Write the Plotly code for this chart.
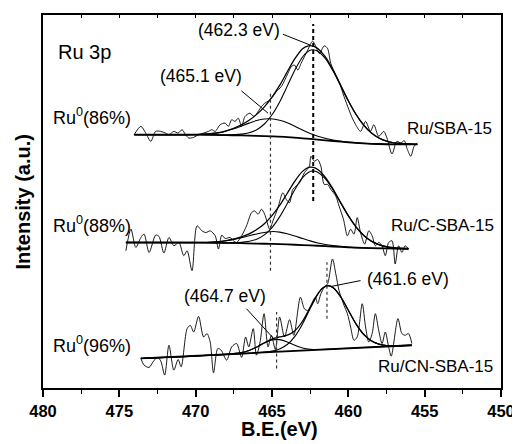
import plotly.graph_objects as go

# ---------------- data ----------------
# Ru/SBA-15 raw spectrum
s1_be = [474.03, 473.59, 473.27, 472.94, 472.62, 472.29, 471.97, 471.75, 471.43, 471.15, 470.89, 470.67,
         470.45, 470.13, 469.81, 469.48, 469.16, 468.94, 468.72, 468.40, 468.07, 467.86, 467.64, 467.42,
         467.21, 466.99, 466.77, 466.45, 466.17, 465.91, 465.69, 465.48, 465.22, 464.94, 464.72, 464.39,
         463.96, 463.74, 463.53, 463.31, 463.10, 462.88, 462.66, 462.34, 462.12, 461.90, 461.58, 461.36,
         461.15, 460.82, 460.61, 460.28, 459.96, 459.74, 459.52, 459.20, 458.87, 458.55, 458.33, 458.01,
         457.68, 457.47, 457.14, 456.82, 456.56, 456.34, 456.13, 455.91, 455.69, 455.48]
s1_int = [254.7, 263.0, 256.3, 248.0, 258.0, 258.0, 256.3, 254.7, 258.0, 256.3, 259.7, 254.7,
          251.3, 252.0, 254.7, 256.3, 258.0, 259.7, 258.0, 264.7, 266.3, 263.0, 269.7, 268.0,
          271.3, 263.0, 273.0, 276.3, 273.0, 278.0, 283.0, 286.3, 288.7, 293.0, 298.0, 303.0,
          316.3, 323.0, 324.7, 319.7, 326.3, 333.0, 339.7, 348.7, 343.0, 336.3, 344.0, 341.3,
          326.3, 314.7, 308.0, 293.0, 279.7, 271.3, 264.7, 258.0, 268.0, 258.0, 264.7, 253.0,
          258.0, 251.3, 235.3, 248.0, 246.3, 248.7, 239.7, 233.0, 243.0, 246.3]

# Ru/C-SBA-15 raw spectrum
s2_be = [474.57, 474.24, 473.92, 473.59, 473.38, 473.05, 472.62, 472.40, 472.08, 471.75, 471.43, 471.10,
         470.78, 470.56, 470.24, 469.91, 469.59, 469.33, 469.05, 468.72, 468.51, 468.29, 468.07, 467.75,
         467.53, 467.32, 466.99, 466.67, 466.34, 466.13, 465.91, 465.69, 465.48, 465.15, 464.94, 464.61,
         464.29, 464.07, 463.85, 463.64, 463.42, 463.20, 462.88, 462.55, 462.45, 462.23, 462.01, 461.80,
         461.58, 461.36, 461.15, 460.82, 460.61, 460.32, 460.06, 459.85, 459.63, 459.42, 459.20, 458.93,
         458.66, 458.44, 458.23, 458.01, 457.79, 457.58, 457.36, 457.14, 456.93, 456.71, 456.49, 456.28,
         456.06]
s2_int = [138.0, 159.7, 141.3, 151.3, 154.7, 136.3, 153.7, 152.3, 135.7, 151.3, 143.0, 146.3,
          133.0, 138.0, 118.0, 163.0, 158.0, 156.3, 158.0, 153.0, 139.7, 153.7, 150.3, 151.3,
          148.0, 146.3, 153.0, 163.0, 176.3, 178.0, 174.7, 179.7, 174.7, 159.7, 168.0, 181.3,
          196.3, 189.7, 186.3, 199.7, 203.0, 206.3, 216.3, 223.0, 233.0, 228.0, 229.7, 223.0,
          204.7, 204.7, 199.7, 193.0, 183.0, 169.7, 153.0, 159.7, 154.7, 171.3, 156.3, 144.7,
          158.0, 153.0, 143.0, 146.3, 143.0, 133.0, 146.3, 148.0, 124.7, 143.0, 136.3, 143.0,
          139.7]

# Ru/CN-SBA-15 raw spectrum
s3_be = [473.59, 473.38, 473.05, 472.79, 472.51, 472.29, 472.03, 471.75, 471.43, 471.15, 470.95, 470.56,
         470.35, 470.13, 469.81, 469.48, 469.26, 469.05, 468.83, 468.55, 468.33, 467.97, 467.64, 467.32,
         466.99, 466.73, 466.52, 466.23, 466.02, 465.78, 465.52, 465.26, 465.04, 464.78, 464.50, 464.18,
         463.85, 463.57, 463.14, 462.88, 462.66, 462.16, 462.01, 461.80, 461.58, 461.36, 461.04, 460.82,
         460.61, 460.28, 460.06, 459.85, 459.63, 459.42, 459.09, 458.87, 458.66, 458.44, 458.23, 458.01,
         457.79, 457.58, 457.36, 457.19, 456.75, 456.49, 456.28, 456.06, 455.84]
s3_int = [29.7, 23.0, 20.7, 26.3, 30.7, 27.3, 13.0, 43.0, 18.0, 28.7, 21.3, 59.7,
          63.0, 56.3, 72.0, 51.3, 54.7, 46.3, 15.3, 39.7, 38.0, 28.0, 41.3, 44.7,
          30.7, 51.3, 41.3, 59.7, 33.0, 46.3, 74.7, 41.3, 53.0, 38.7, 71.3, 51.3,
          68.7, 53.0, 91.3, 79.7, 78.0, 91.3, 84.7, 94.7, 101.3, 104.7, 129.7, 114.7,
          98.0, 83.0, 74.7, 61.3, 48.0, 51.3, 84.7, 61.3, 46.3, 54.7, 74.7, 58.0,
          44.7, 56.3, 41.3, 32.0, 69.7, 54.7, 53.0, 54.7, 44.7]

# fitted curves, Ru/SBA-15
f1_base_be = [474.03, 470, 468, 467, 466, 465, 464, 463, 462, 461, 460, 459, 458, 457, 455.48]
f1_base = [254.7, 254.7, 254.2, 254.0, 253.5, 253.0, 252.3, 251.0, 249.7, 248.3, 247.0, 246.0, 245.3, 245.0, 245.0]
f1_pa_be = [474.03, 470, 469, 468.5, 468, 467.5, 467, 466.5, 466, 465.5, 465.1, 464.5, 464, 463.5, 463,
            462.5, 462, 461, 460, 459, 458, 457, 455.48]
f1_pa = [254.7, 254.8, 255.8, 256.4, 258.3, 260.6, 263.5, 266.3, 268.9, 270.4, 270.7, 269.2, 266.7, 263.1,
         259.3, 255.9, 253.1, 249.3, 247.2, 246.0, 245.3, 245.0, 245.0]
f1_pb_be = [474.03, 470, 468, 467, 466.5, 466, 465.5, 465, 464.5, 464, 463.5, 463, 462.6, 462.3, 462,
            461.5, 461, 460.5, 460, 459.5, 459, 458.5, 458, 457.5, 457, 456, 455.48]
f1_pb = [254.7, 254.7, 254.4, 255.2, 256.6, 259.7, 265.4, 274.7, 287.6, 303.5, 319.7, 332.8, 338.8, 340.0,
         338.5, 331.0, 318.6, 303.8, 288.6, 275.1, 264.4, 256.5, 251.3, 248.2, 246.5, 245.3, 245.0]
f1_env_be = [474.03, 470, 469, 468, 467, 466.5, 466, 465.5, 465, 464.5, 464, 463.5, 463, 462.6, 462.3,
             462, 461.5, 461, 460.5, 460, 459.5, 459, 458.5, 458, 457.5, 457, 456, 455.48]
f1_env = [254.7, 254.8, 255.8, 258.5, 264.7, 269.2, 275.1, 282.6, 292.4, 304.2, 317.9, 331.1, 341.1, 344.0,
          343.6, 341.2, 332.9, 319.6, 304.3, 288.8, 275.2, 264.4, 256.5, 251.3, 248.2, 246.5, 245.3, 245.0]

# fitted curves, Ru/C-SBA-15
f2_base_be = [474.57, 470, 467, 466, 465, 464, 463, 462, 461, 460, 459, 458, 457, 456.06]
f2_base = [146.3, 146.2, 145.6, 145.2, 144.8, 144.3, 143.7, 143.0, 142.2, 141.4, 140.8, 140.4, 140.2, 140.0]
f2_pa_be = [474.57, 470, 469, 468, 467.5, 467, 466.5, 466, 465.5, 464.9, 464.5, 464, 463.5, 463, 462.5,
            462, 461.5, 461, 460, 459, 458, 457, 456.06]
f2_pa = [146.3, 146.3, 146.6, 148.1, 149.4, 151.2, 153.1, 154.9, 156.3, 157.3, 156.7, 155.1, 152.8, 150.3,
         147.9, 145.8, 144.2, 143.1, 141.6, 140.8, 140.4, 140.2, 140.0]
f2_pb_be = [474.57, 470, 467, 466, 465.5, 465, 464.5, 464, 463.5, 463, 462.6, 462.3, 462, 461.5, 461,
            460.5, 460, 459.5, 459, 458.5, 458, 457.5, 457, 456.06]
f2_pb = [146.3, 146.2, 146.4, 149.6, 153.9, 161.3, 172.0, 185.4, 199.6, 211.4, 217.0, 218.2, 216.9, 210.2,
         199.1, 186.0, 173.0, 162.0, 153.5, 147.7, 144.1, 142.0, 141.0, 140.0]
f2_env_be = [474.57, 470, 469, 468, 467, 466.5, 466, 465.5, 465, 464.5, 464, 463.5, 463, 462.6, 462.3,
             462, 461.5, 461, 460.5, 460, 459.5, 459, 458.5, 458, 457.5, 457, 456.06]
f2_env = [146.3, 146.3, 146.6, 148.2, 152.0, 155.0, 159.3, 165.2, 173.3, 183.6, 195.8, 208.1, 217.8, 221.8,
          221.9, 219.7, 211.8, 200.0, 186.4, 173.2, 162.0, 153.5, 147.7, 144.1, 142.0, 141.0, 140.0]

# fitted curves, Ru/CN-SBA-15
f3_base_be = [473.59, 455.84]
f3_base = [29.7, 43.0]
f3_pa_be = [473.59, 468, 467, 466.5, 466, 465.5, 465, 464.75, 464.5, 464, 463.5, 463, 462.5, 462, 460,
            458, 455.84]
f3_pa = [29.7, 33.9, 35.6, 37.7, 41.1, 45.2, 48.2, 48.8, 48.6, 46.3, 43.0, 40.3, 39.0, 38.7, 39.9, 41.4, 43.0]
f3_pb_be = [473.59, 466, 465, 464.5, 464, 463.5, 463, 462.5, 462, 461.7, 461.35, 461, 460.5, 460, 459.5,
            459, 458.5, 458, 457.5, 457, 455.84]
f3_pb = [29.7, 35.4, 37.1, 39.3, 43.7, 51.9, 64.4, 79.9, 94.3, 100.2, 102.9, 100.9, 91.7, 78.2, 64.5,
         54.0, 47.5, 44.1, 42.7, 42.4, 43.0]
f3_env_be = [473.59, 468, 467, 466.5, 466, 465.5, 465, 464.75, 464.5, 464, 463.5, 463, 462.5, 462, 461.7,
             461.35, 461, 460.5, 460, 459.5, 459, 458.5, 458, 457.5, 457, 455.84]
f3_env = [29.7, 33.9, 35.6, 37.7, 41.2, 45.5, 49.1, 50.4, 51.3, 53.1, 57.6, 67.1, 80.9, 94.6, 100.3,
          102.9, 100.9, 91.7, 78.2, 64.5, 54.0, 47.5, 44.1, 42.7, 42.4, 43.0]

# peak markers (dashed lines) and labels
mark_be = [465.1, 462.3, 464.7, 461.4]
mark_lo = [118, 188, 19.7, 69.7]
mark_hi = [298, 366, 76.3, 126.3]
peak_labels = ["(465.1 eV)", "(462.3 eV)", "(464.7 eV)", "(461.6 eV)"]
sample_names = ["Ru/SBA-15", "Ru/C-SBA-15", "Ru/CN-SBA-15"]
ru0_share = ["86%", "88%", "96%"]
x_ticks = [480, 475, 470, 465, 460, 455, 450]

FONT = "Liberation Sans, Arial, sans-serif"
fig = go.Figure()

def line(x, y, w=1.0, shape="spline", color="black"):
    fig.add_trace(go.Scatter(x=x, y=y, mode="lines", showlegend=False, hoverinfo="skip",
                             line=dict(color=color, width=w, shape=shape, smoothing=0.8 if shape == "spline" else None)))

for be, it in [(s1_be, s1_int), (s2_be, s2_int), (s3_be, s3_int)]:
    line(be, it, 0.9)
for (bb, b), (ab, a), (pb, p), (eb, e) in [
        ((f1_base_be, f1_base), (f1_pa_be, f1_pa), (f1_pb_be, f1_pb), (f1_env_be, f1_env)),
        ((f2_base_be, f2_base), (f2_pa_be, f2_pa), (f2_pb_be, f2_pb), (f2_env_be, f2_env)),
        ((f3_base_be, f3_base), (f3_pa_be, f3_pa), (f3_pb_be, f3_pb), (f3_env_be, f3_env))]:
    line(ab, a, 1.1)
    line(pb, p, 1.1)
    line(eb, e, 1.3)
    line(bb, b, 1.8)

# invisible trace for top axis
fig.add_trace(go.Scatter(x=[480, 450], y=[0, 0], xaxis="x2", mode="markers",
                         marker=dict(opacity=0), showlegend=False, hoverinfo="skip"))

shapes = []
for i, (xb, lo, hi) in enumerate(zip(mark_be, mark_lo, mark_hi)):
    shapes.append(dict(type="line", xref="x", yref="y", x0=xb, x1=xb, y0=lo, y1=hi,
                       line=dict(color="black" if i == 1 else "#333", width=2 if i == 1 else 1.2,
                                 dash="4px,3px" if i == 1 else "3px,3px")))
# pointer lines from labels to peaks
for x0, y0, x1, y1 in [(467.0, 298.7, 465.26, 276.3), (464.29, 355.7, 462.49, 344.7),
                       (466.67, 79.7, 464.79, 48.0), (459.2, 108.0, 461.15, 102.0)]:
    shapes.append(dict(type="line", xref="x", yref="y", x0=x0, y0=y0, x1=x1, y1=y1,
                       line=dict(color="black", width=1)))

ann = []
def txt(x, y, s, size=17, xref="x", yref="y", bold=False, angle=0):
    ann.append(dict(x=x, y=y, xref=xref, yref=yref, text=s, showarrow=False, textangle=angle,
                    font=dict(family=FONT, size=size, color="black", weight="bold" if bold else "normal"),
                    xanchor="center", yanchor="middle"))

txt(469.63, 314, peak_labels[0], 17.5)
txt(467.16, 359.7, peak_labels[1], 17.5)
txt(468.07, 93, peak_labels[2], 17.5)
txt(456.1, 109.7, peak_labels[3], 17.5)
txt(477.27, 338, "Ru 3p", 20)
for y, s in zip([273, 164, 43.7], ru0_share):
    txt(476.78, y, "Ru<sup>0</sup>(" + s + ")", 18)
for x, y, s in zip([453.4, 453.85, 454.31], [260.7, 163, 21.3], sample_names):
    txt(x, y, s, 17)
txt(0.5167, -41 / 375, "B.E.(eV)", 20, xref="paper", yref="paper", bold=True)
txt(-0.0426, 0.501, "Intensity (a.u.)", 20, xref="paper", yref="paper", bold=True, angle=-90)

# the page body has an 8 px default margin, so the figure is 8 px smaller and shifted
fig.update_layout(
    width=512, height=436, margin=dict(l=35, r=15, t=5, b=56),
    paper_bgcolor="white", plot_bgcolor="white",
    shapes=shapes, annotations=ann,
    xaxis=dict(range=[480, 450], tickvals=x_ticks, ticks="outside", ticklen=7, tickwidth=1.5,
               tickcolor="black", showline=True, linewidth=1.5, linecolor="black", mirror=True,
               showgrid=False, zeroline=False,
               minor=dict(dtick=2.5, tick0=450, ticks="outside", ticklen=4, tickwidth=1.2, tickcolor="black"),
               tickfont=dict(family=FONT, size=16.5, color="black", weight="bold")),
    xaxis2=dict(range=[480, 450], overlaying="x", side="top", anchor="y", dtick=2.5, tick0=450,
                ticks="inside", ticklen=3, tickwidth=1, tickcolor="black", showticklabels=False,
                showline=False, showgrid=False, zeroline=False),
    yaxis=dict(range=[0, 375], showticklabels=False, ticks="", showline=True, linewidth=1.5,
               linecolor="black", mirror=True, showgrid=False, zeroline=False),
)
fig.write_html("out.html")
